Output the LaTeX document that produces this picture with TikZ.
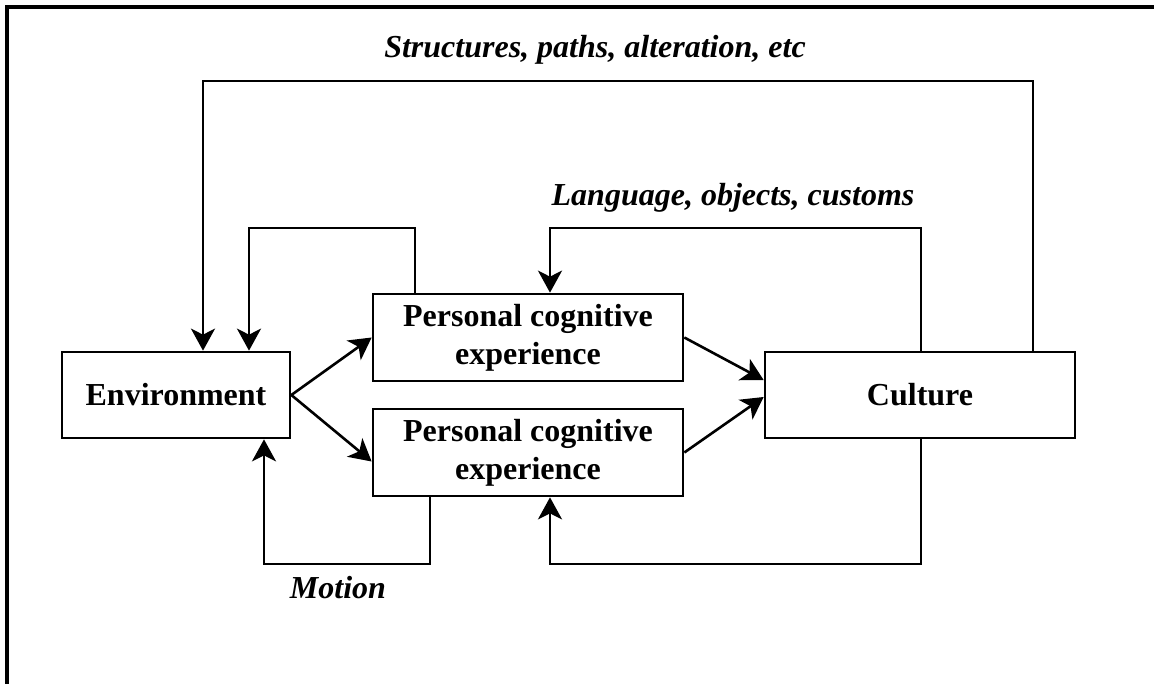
\documentclass[tikz,border=0pt]{standalone}
\usepackage{fontspec}
\setmainfont{Liberation Serif}
\usetikzlibrary{arrows.meta,calc}
\begin{document}
\begin{tikzpicture}[x=1pt,y=-1pt,
  box/.style={draw,line width=2.7pt,inner sep=0pt,align=center,
    font=\fontsize{32}{38}\selectfont\bfseries},
  lbl/.style={inner sep=0pt,anchor=base,font=\fontsize{32}{38}\selectfont\bfseries\itshape},
  conn/.style={line width=2.6pt},
  arr/.style={conn,-{Stealth[length=22pt,width=24pt,inset=6pt]}}]
\useasboundingbox (0,0) rectangle (1154,683);
\draw[line width=3.2pt] (7,690) -- (7,7) -- (1160,7);
\node[box,minimum width=228pt,minimum height=86pt] (env) at (176,395) {Environment};
\node[box,minimum width=310pt,minimum height=87pt] (pce1) at (528,337.5) {Personal cognitive\\experience};
\node[box,minimum width=310pt,minimum height=87pt] (pce2) at (528,452.5) {Personal cognitive\\experience};
\node[box,minimum width=310pt,minimum height=86pt] (cult) at (920,395) {Culture};
\node[lbl] (l1) at (595,57) {Structures, paths, alteration, etc};
\node[lbl] (l2) at (733,205) {Language, objects, customs};
\node[lbl] (l3) at (338,598) {Motion};
\coordinate (a1) at (1033,81);
\coordinate (a2) at (203,81);
\coordinate (b1) at (415,228);
\coordinate (b2) at (249,228);
\coordinate (c1) at (921,228);
\coordinate (c2) at (550,228);
\coordinate (d1) at (430,564);
\coordinate (d2) at (264,564);
\coordinate (e1) at (921,564);
\coordinate (e2) at (550,564);
\draw[arr] (env.east) -- (pce1.west);
\draw[arr] (env.east) -- ($(pce2.west)+(0,9)$);
\draw[arr] (pce1.east) -- ($(cult.west)+(0,-15)$);
\draw[arr] (pce2.east) -- ($(cult.west)+(0,2)$);
\draw[arr] (cult.north -| a1) -- (a1) -- (a2) -- (env.north -| a2);
\draw[arr] (pce1.north -| b1) -- (b1) -- (b2) -- (env.north -| b2);
\draw[arr] (cult.north -| c1) -- (c1) -- (c2) -- (pce1.north -| c2);
\draw[arr] (pce2.south -| d1) -- (d1) -- (d2) -- (env.south -| d2);
\draw[arr] (cult.south -| e1) -- (e1) -- (e2) -- (pce2.south -| e2);
\end{tikzpicture}
\end{document}
